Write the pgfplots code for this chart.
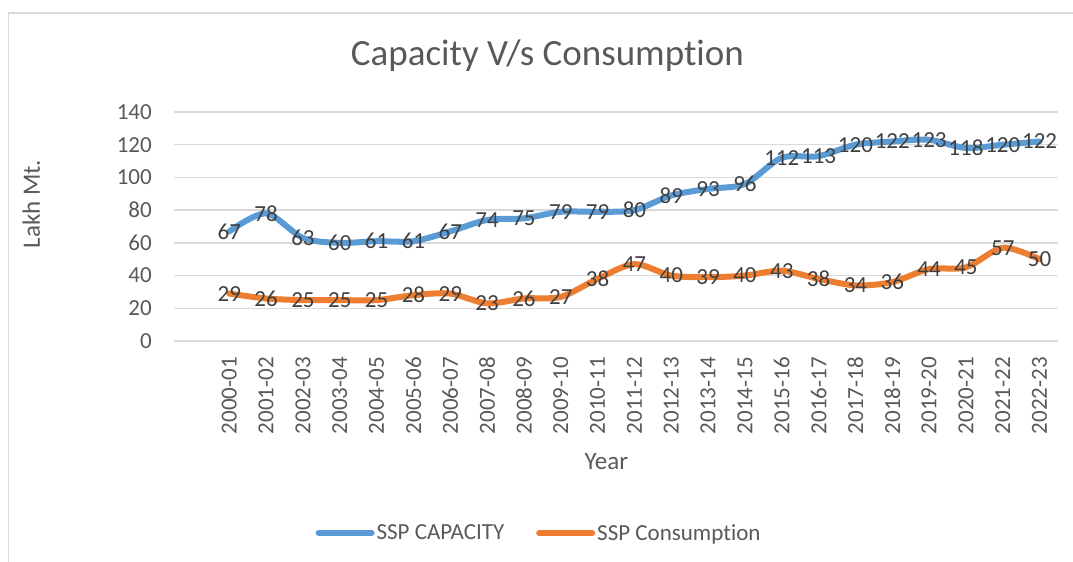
\documentclass[border=0pt]{standalone}
\usepackage{pgfplots}
\usepackage{pgfplotstable}
\pgfplotsset{compat=1.18}
\usepackage{fontspec}
\setmainfont{Carlito}[Ligatures=NoCommon]
\definecolor{capblue}{HTML}{5B9BD5}
\definecolor{conorange}{HTML}{ED7D31}
\definecolor{txtgray}{HTML}{595959}
\definecolor{lblgray}{HTML}{404040}
\definecolor{gridgray}{HTML}{D9D9D9}

\pgfplotstableread{
x cap con
0 67 29
1 78 26
2 63 25
3 60 25
4 61 25
5 61 28
6 67 29
7 74 23
8 75 26
9 79 27
10 79 38
11 80 47
12 89 40
13 93 39
14 96 40
15 112 43
16 113 38
17 120 34
18 122 36
19 123 44
20 118 45
21 120 57
22 122 50
}\datatable

\begin{document}
\begin{tikzpicture}
\useasboundingbox (0,0) rectangle (1073bp,-562bp);
\draw[gridgray, line width=1.5bp] (8.5bp,-562bp) -- (8.5bp,-13bp) -- (1073bp,-13bp);
\begin{axis}[
  at={(174bp,-341bp)}, anchor=south west,
  scale only axis, width=884bp, height=229bp,
  xmin=-1.5, xmax=22.5, ymin=0, ymax=140,
  ytick={0,20,...,140},
  xtick={0,...,22},
  xticklabels={2000-01,2001-02,2002-03,2003-04,2004-05,2005-06,2006-07,2007-08,2008-09,2009-10,2010-11,2011-12,2012-13,2013-14,2014-15,2015-16,2016-17,2017-18,2018-19,2019-20,2020-21,2021-22,2022-23},
  /pgf/number format/assume math mode=true,
  axis lines=left,
  axis line style={draw=none},
  major tick length=0pt,
  ymajorgrids,
  grid style={gridgray, line width=1.3bp},
  clip=false,
  tick label style={font=\fontsize{23bp}{27bp}\selectfont, text=txtgray},
  xticklabel style={rotate=90, anchor=east, inner sep=0pt},
  xticklabel shift=16bp,
  yticklabel style={anchor=east, inner sep=0pt},
  yticklabel shift=22bp,
  every axis title shift=0pt,
  title={Capacity V/s Consumption},
  title style={at={(axis description cs:0.4225,1.201)}, anchor=base, font=\fontsize{37bp}{42bp}\selectfont, text=txtgray, inner sep=0pt},
  xlabel={Year},
  xlabel style={at={(axis description cs:0.489,-0.563)}, anchor=base, font=\fontsize{25bp}{29bp}\selectfont, text=txtgray, inner sep=0pt},
  ylabel={Lakh Mt.},
  ylabel style={at={(axis description cs:-0.1516,0.598)}, anchor=base, font=\fontsize{25bp}{29bp}\selectfont, text=txtgray, inner sep=0pt},
  legend style={at={(axis description cs:0.413,-0.838)}, anchor=center, draw=none, fill=none,
    font=\fontsize{23bp}{27bp}\selectfont, text=txtgray,
    /tikz/every even column/.append style={column sep=30bp},
    nodes={inner sep=2bp}},
  legend columns=2,
  legend image code/.code={\draw[#1, line cap=round] (0bp,0bp) -- (53bp,0bp);},
  nodes near coords,
  every node near coord/.append style={anchor=center, inner sep=0pt, font=\fontsize{23bp}{27bp}\selectfont, text=lblgray},
]
\addplot[capblue, line width=6bp, smooth, line cap=round, line join=round] table[x=x, y=cap] {\datatable};
\addlegendentry{SSP CAPACITY}
\addplot[conorange, line width=6bp, smooth, line cap=round, line join=round] table[x=x, y=con] {\datatable};
\addlegendentry{SSP Consumption}
\end{axis}
\end{tikzpicture}
\end{document}
